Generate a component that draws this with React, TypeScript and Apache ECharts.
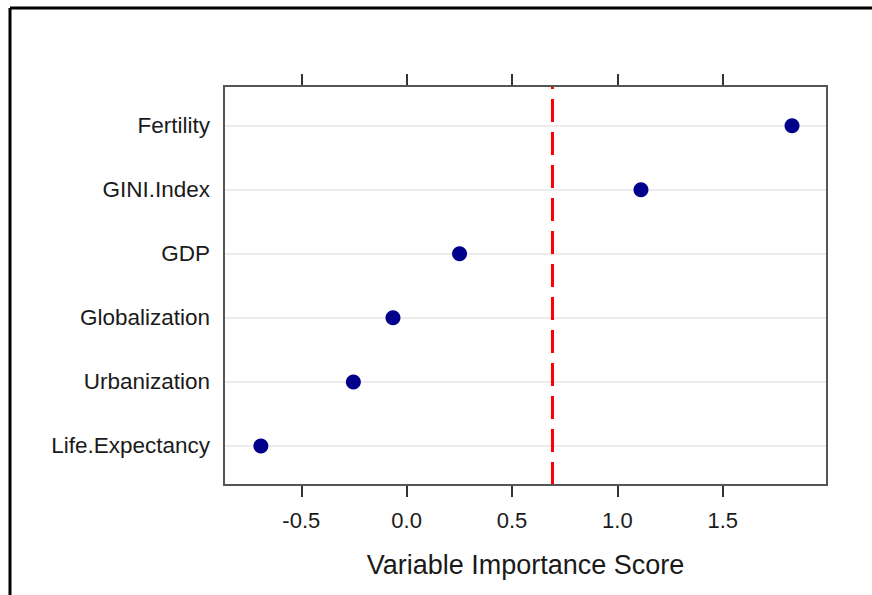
import React, { useEffect, useRef } from "react";
import * as echarts from "echarts";

const categories = ["Life.Expectancy", "Urbanization", "Globalization", "GDP", "GINI.Index", "Fertility"];
const scores = [-0.692, -0.253, -0.065, 0.251, 1.112, 1.829];
const xTicks = [-0.5, 0, 0.5, 1.0, 1.5];
const threshold = 0.687;
const xTitle = "Variable Importance Score";

export default function App() {
  const ref = useRef<HTMLDivElement>(null);
  useEffect(() => {
    if (!ref.current) return;
    const chart = echarts.init(ref.current, null, { renderer: "svg" });
    const rowIdx = categories.map((_, i) => i + 1);
    const font = "'Liberation Sans', Arial, sans-serif";
    chart.setOption({
      animation: false,
      backgroundColor: "#ffffff",
      grid: {
        left: 224,
        right: 45,
        top: 86,
        bottom: 110,
        show: true,
        borderColor: "#555555",
        borderWidth: 2,
        backgroundColor: "transparent",
        z: 10,
      },
      xAxis: [
        {
          type: "value",
          position: "bottom",
          min: -0.867,
          max: 1.995,
          axisLine: { show: false },
          splitLine: { show: false },
          axisTick: {
            show: true,
            customValues: xTicks,
            length: 12,
            lineStyle: { color: "#333333", width: 2 },
          },
          axisLabel: {
            customValues: xTicks,
            formatter: (v: number) => v.toFixed(1),
            fontFamily: font,
            fontSize: 22,
            color: "#1a1a1a",
            margin: 24,
          },
          name: xTitle,
          nameLocation: "middle",
          nameGap: 66,
          nameTextStyle: { fontFamily: font, fontSize: 27, color: "#1a1a1a", verticalAlign: "top" },
        },
        {
          type: "value",
          position: "top",
          min: -0.867,
          max: 1.995,
          axisLine: { show: false },
          splitLine: { show: false },
          axisTick: {
            show: true,
            customValues: xTicks,
            length: 12,
            lineStyle: { color: "#333333", width: 2 },
          },
          axisLabel: { show: false },
        },
      ],
      yAxis: {
        type: "value",
        min: 0.39,
        max: 6.62,
        axisLine: { show: false },
        axisTick: { show: false },
        splitLine: { show: false },
        axisLabel: {
          customValues: rowIdx,
          formatter: (v: number) => categories[Math.round(v) - 1] ?? "",
          fontFamily: font,
          fontSize: 22.5,
          color: "#1a1a1a",
          margin: 14,
        },
      },
      series: [
        {
          type: "scatter",
          xAxisIndex: 0,
          symbol: "circle",
          symbolSize: 15,
          itemStyle: { color: "#00008B", opacity: 1 },
          data: scores.map((s, i) => [s, i + 1]),
          z: 5,
          markLine: {
            silent: true,
            symbol: "none",
            label: { show: false },
            z: 1,
            data: [
              ...rowIdx.map((r) => ({ yAxis: r, lineStyle: { color: "#e6e6e6", width: 1.5, type: "solid", opacity: 1 } })),
              { xAxis: threshold, lineStyle: { color: "#ff0000", width: 3, type: [23, 10], opacity: 1 } },
            ],
          },
        },
      ],
      graphic: [
        { type: "line", shape: { x1: 10, y1: 8, x2: 872, y2: 8 }, style: { stroke: "#000000", lineWidth: 3 } },
        { type: "line", shape: { x1: 10, y1: 8, x2: 10, y2: 595 }, style: { stroke: "#000000", lineWidth: 3 } },
      ],
    });
    return () => chart.dispose();
  }, []);
  return (
    <div
      ref={ref}
      style={{ position: "fixed", left: 0, top: 0, width: 872, height: 595, background: "#fff" }}
    />
  );
}
